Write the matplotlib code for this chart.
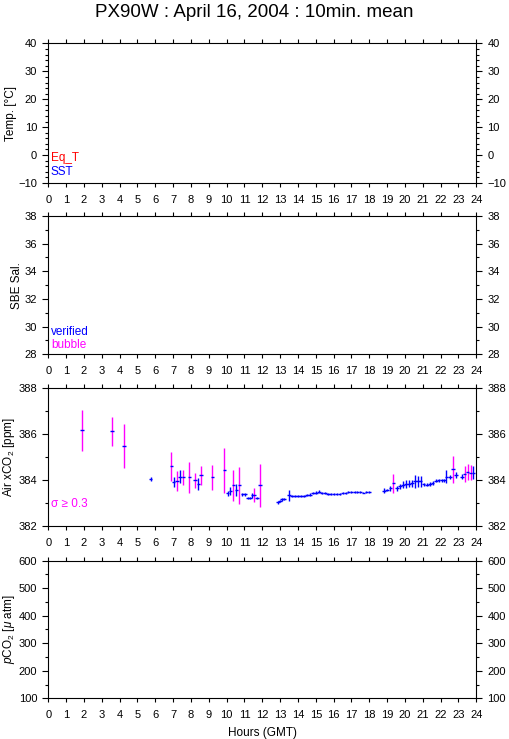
import matplotlib
matplotlib.use("Agg")
import matplotlib.pyplot as plt
from matplotlib.ticker import MultipleLocator

plt.rcParams['font.family'] = ['Liberation Sans', 'DejaVu Sans']
plt.rcParams['mathtext.fontset'] = 'custom'
plt.rcParams['mathtext.rm'] = 'Liberation Sans'
plt.rcParams['mathtext.it'] = 'Liberation Sans:italic'

# ---------------- data ----------------
title = "PX90W : April 16, 2004 : 10min. mean"
x_ticks = list(range(0, 25))

hours = [1.89, 3.57, 4.23, 5.74, 6.90, 7.03, 7.22, 7.40, 7.57, 7.91,
         8.23, 8.41, 8.55, 9.20, 9.87, 10.06, 10.21, 10.38, 10.55, 10.71,
         10.88, 11.03, 11.20, 11.33, 11.44, 11.55, 11.70, 11.87,
         12.87, 13.00, 13.09, 13.22,
         13.50, 13.67, 13.83, 14.00, 14.17, 14.33, 14.50, 14.67, 14.83, 15.00,
         15.17, 15.33, 15.50, 15.67, 15.83, 16.00, 16.17, 16.33, 16.50, 16.67,
         16.83, 17.00, 17.17, 17.33, 17.50, 17.67, 17.83, 18.00,
         18.83, 19.00, 19.18, 19.35, 19.54, 19.71, 19.88, 20.05, 20.22, 20.39,
         20.56, 20.73, 20.88, 21.05, 21.22, 21.39, 21.55, 21.74, 21.89, 22.08,
         22.21, 22.32, 22.53, 22.69, 22.87, 23.19, 23.34, 23.51, 23.68, 23.84]

xco2 = [386.17, 386.12, 385.47, 384.05, 384.59, 383.91, 383.97, 384.14, 384.11, 384.11,
        383.98, 383.82, 384.20, 384.11, 384.42, 383.41, 383.51, 383.76, 383.56, 383.76,
        383.37, 383.37, 383.20, 383.22, 383.33, 383.33, 383.20, 383.76,
        383.02, 383.09, 383.15, 383.17,
        383.34, 383.30, 383.29, 383.30, 383.29, 383.31, 383.35, 383.36, 383.44, 383.45,
        383.48, 383.44, 383.42, 383.39, 383.38, 383.38, 383.38, 383.38, 383.42, 383.44,
        383.47, 383.47, 383.48, 383.48, 383.48, 383.45, 383.47, 383.47,
        383.52, 383.56, 383.63, 383.86, 383.63, 383.72, 383.79, 383.82, 383.83, 383.85,
        383.94, 383.94, 383.94, 383.81, 383.79, 383.83, 383.88, 383.96, 383.98, 383.98,
        383.98, 384.14, 384.13, 384.46, 384.21, 384.14, 384.26, 384.33, 384.31, 384.31]

sigma = [0.90, 0.65, 0.97, 0.08, 0.63, 0.20, 0.44, 0.29, 0.34, 0.67,
         0.34, 0.28, 0.41, 0.55, 0.99, 0.10, 0.17, 0.69, 0.25, 0.80,
         0.05, 0.05, 0.04, 0.04, 0.10, 0.30, 0.05, 0.95,
         0.05, 0.04, 0.06, 0.04,
         0.24, 0.04, 0.05, 0.04, 0.04, 0.05, 0.04, 0.06, 0.05, 0.05,
         0.06, 0.05, 0.04, 0.04, 0.05, 0.04, 0.05, 0.04, 0.05, 0.05,
         0.06, 0.05, 0.05, 0.05, 0.05, 0.04, 0.05, 0.04,
         0.11, 0.06, 0.10, 0.42, 0.10, 0.12, 0.15, 0.16, 0.15, 0.14,
         0.28, 0.25, 0.23, 0.06, 0.06, 0.08, 0.08, 0.06, 0.05, 0.05,
         0.05, 0.29, 0.08, 0.60, 0.12, 0.11, 0.36, 0.35, 0.33, 0.29]

sigma_threshold = 0.3

BLUE = '#0000ff'
MAGENTA = '#ff00ff'
RED = '#ff0000'

# ---------------- figure ----------------
fig = plt.figure(figsize=(5.09, 7.39), dpi=100)
L, W = 0.0949, 0.8409
rects = [(L, 0.7524, W, 0.1888),
         (L, 0.5206, W, 0.1871),
         (L, 0.2886, W, 0.1859),
         (L, 0.0551, W, 0.1862)]
ylims = [(-10, 40), (28, 38), (382, 388), (100, 600)]
majors = [10, 2, 2, 100]
minors = [2, 1, 1, 50]
ylabels = ["Temp. [\u00b0C]", "SBE Sal.", "Air xCO$_2$ [ppm]",
           "$p$CO$_2$ [$\\mu$ atm]"]

axes = []
for r, yl, mj, mn, lab in zip(rects, ylims, majors, minors, ylabels):
    ax = fig.add_axes(r)
    ax.set_xlim(0, 24)
    ax.set_ylim(*yl)
    ax.set_xticks(x_ticks)
    ax.set_xticklabels([str(t) for t in x_ticks])
    ax.yaxis.set_major_locator(MultipleLocator(mj))
    ax.yaxis.set_minor_locator(MultipleLocator(mn))
    ax.tick_params(axis='x', which='major', direction='out', length=3.2, width=0.8,
                   top=True, bottom=True, labelsize=8, pad=5.5)
    ax.tick_params(axis='y', which='major', direction='out', length=4.5, width=0.8,
                   left=True, right=True, labelleft=True, labelright=True,
                   labelsize=8, pad=3.5)
    ax.tick_params(axis='y', which='minor', direction='out', length=2.3, width=0.8,
                   left=True, right=True)
    for s in ax.spines.values():
        s.set_linewidth(0.8)
    ax.set_ylabel(lab, fontsize=8.5, labelpad=1)
    axes.append(ax)

fig.text(0.5, 0.983, title, ha='center', va='center', fontsize=13.5)

# legends / annotations
axes[0].text(0.006, 0.179, "Eq_T", color=RED, fontsize=8.5,
             transform=axes[0].transAxes, va='center', ha='left')
axes[0].text(0.006, 0.079, "SST", color=BLUE, fontsize=8.5,
             transform=axes[0].transAxes, va='center', ha='left')
axes[1].text(0.006, 0.163, "verified", color=BLUE, fontsize=8.5,
             transform=axes[1].transAxes, va='center', ha='left')
axes[1].text(0.006, 0.067, "bubble", color=MAGENTA, fontsize=8.5,
             transform=axes[1].transAxes, va='center', ha='left')
axes[2].text(0.006, 0.158, "\u03c3 \u2265 0.3", color=MAGENTA, fontsize=8.5,
             transform=axes[2].transAxes, va='center', ha='left')

# xCO2 data
ax = axes[2]
lo = [v - s for v, s in zip(xco2, sigma)]
hi = [v + s for v, s in zip(xco2, sigma)]
cols = [MAGENTA if s >= sigma_threshold else BLUE for s in sigma]
ax.vlines(hours, lo, hi, colors=cols, linewidth=1.0, zorder=3)
half = 0.1
ax.hlines(xco2, [h - half for h in hours], [h + half for h in hours],
          colors=BLUE, linewidth=1.0, zorder=4)

axes[3].set_xlabel("Hours (GMT)", fontsize=8.5, labelpad=5)

fig.savefig("out.png", dpi=100)
